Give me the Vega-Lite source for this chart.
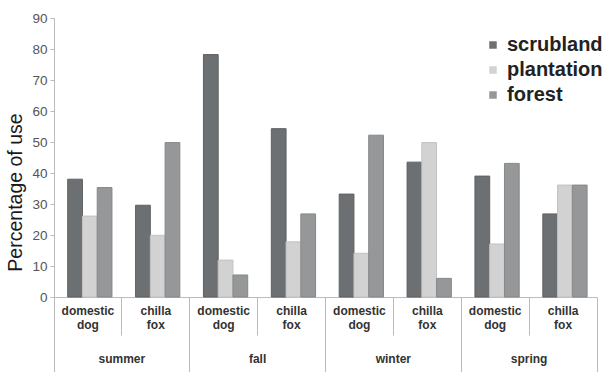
{
  "$schema": "https://vega.github.io/schema/vega-lite/v6.json",
  "width": 543,
  "height": 279,
  "autosize": "none",
  "padding": {"left": 54, "top": 18, "right": 12, "bottom": 75},
  "background": "white",
  "config": {"view": {"stroke": null}, "font": "Liberation Sans"},
  "data": {
    "values": [
      {"group": "summer/domestic dog", "habitat": "scrubland", "value": 38.0},
      {"group": "summer/domestic dog", "habitat": "plantation", "value": 26.1},
      {"group": "summer/domestic dog", "habitat": "forest", "value": 35.3},
      {"group": "summer/chilla fox", "habitat": "scrubland", "value": 29.6},
      {"group": "summer/chilla fox", "habitat": "plantation", "value": 19.9},
      {"group": "summer/chilla fox", "habitat": "forest", "value": 49.8},
      {"group": "fall/domestic dog", "habitat": "scrubland", "value": 78.2},
      {"group": "fall/domestic dog", "habitat": "plantation", "value": 11.9},
      {"group": "fall/domestic dog", "habitat": "forest", "value": 7.1},
      {"group": "fall/chilla fox", "habitat": "scrubland", "value": 54.3},
      {"group": "fall/chilla fox", "habitat": "plantation", "value": 17.8},
      {"group": "fall/chilla fox", "habitat": "forest", "value": 26.8},
      {"group": "winter/domestic dog", "habitat": "scrubland", "value": 33.2},
      {"group": "winter/domestic dog", "habitat": "plantation", "value": 14.1},
      {"group": "winter/domestic dog", "habitat": "forest", "value": 52.2},
      {"group": "winter/chilla fox", "habitat": "scrubland", "value": 43.5},
      {"group": "winter/chilla fox", "habitat": "plantation", "value": 49.8},
      {"group": "winter/chilla fox", "habitat": "forest", "value": 6.0},
      {"group": "spring/domestic dog", "habitat": "scrubland", "value": 39.0},
      {"group": "spring/domestic dog", "habitat": "plantation", "value": 17.1},
      {"group": "spring/domestic dog", "habitat": "forest", "value": 43.1},
      {"group": "spring/chilla fox", "habitat": "scrubland", "value": 26.8},
      {"group": "spring/chilla fox", "habitat": "plantation", "value": 36.1},
      {"group": "spring/chilla fox", "habitat": "forest", "value": 36.1}
    ]
  },
  "layer": [
    {
      "mark": {"type": "bar", "strokeWidth": 1},
      "encoding": {
        "x": {
          "field": "group",
          "type": "nominal",
          "sort": null,
          "scale": {"paddingInner": 0, "paddingOuter": 0},
          "axis": {
            "orient": "bottom",
            "title": null,
            "labelExpr": "split(split(datum.value, '/')[1], ' ')",
            "labelAngle": 0,
            "labelOverlap": false,
            "ticks": false,
            "labelPadding": 8,
            "labelFontSize": 12,
            "labelFontWeight": "bold",
            "labelColor": "#333333",
            "labelBaseline": "top",
            "labelLineHeight": 14.5,
            "domainColor": "#bbbbbb"
          }
        },
        "xOffset": {
          "field": "habitat",
          "sort": ["scrubland", "plantation", "forest"],
          "scale": {"paddingInner": 0, "paddingOuter": 0.8, "align": 0.58}
        },
        "y": {
          "field": "value",
          "type": "quantitative",
          "scale": {"domain": [0, 90], "nice": false},
          "axis": {
            "title": "Percentage of use",
            "values": [0, 10, 20, 30, 40, 50, 60, 70, 80, 90],
            "grid": false,
            "domainColor": "#bbbbbb",
            "tickColor": "#bbbbbb",
            "tickSize": 4,
            "labelPadding": 3,
            "labelFontSize": 13.5,
            "labelColor": "#555555",
            "titleFontSize": 19.5,
            "titleFontWeight": "normal",
            "titleColor": "#1a1a1a",
            "titlePadding": 6,
            "titleY": 174
          }
        },
        "color": {
          "field": "habitat",
          "type": "nominal",
          "sort": ["scrubland", "plantation", "forest"],
          "scale": {"range": ["#6d7072", "#d2d2d2", "#959799"]},
          "legend": {
            "orient": "none",
            "legendX": 429,
            "legendY": 17,
            "title": null,
            "symbolType": "square",
            "symbolSize": 56,
            "symbolStrokeWidth": 0,
            "labelFontSize": 20,
            "labelFontWeight": "bold",
            "labelColor": "#222222",
            "labelOffset": 4,
            "rowPadding": 5
          }
        },
        "stroke": {
          "field": "habitat",
          "type": "nominal",
          "sort": ["scrubland", "plantation", "forest"],
          "scale": {"range": ["#5e6163", "#c2c2c2", "#85888a"]},
          "legend": null
        }
      }
    },
    {
      "mark": {"type": "bar", "opacity": 0},
      "encoding": {
        "x": {
          "field": "group",
          "type": "nominal",
          "sort": null,
          "axis": {
            "orient": "bottom",
            "title": null,
            "bandPosition": 0,
            "domain": false,
            "labelAngle": 0,
            "labelOverlap": false,
            "labelExpr": "indexof(datum.value, 'chilla') >= 0 ? split(datum.value, '/')[0] : ''",
            "labelOffset": -34,
            "tickColor": "#bbbbbb",
            "tickSize": {"condition": {"test": "indexof(datum.value, 'domestic') >= 0", "value": 80}, "value": 38},
            "labelPadding": 23,
            "labelFontSize": 12,
            "labelFontWeight": "bold",
            "labelColor": "#333333",
            "labelBaseline": "middle"
          }
        }
      }
    },
    {
      "mark": {"type": "bar", "opacity": 0},
      "encoding": {
        "x": {
          "field": "group",
          "type": "nominal",
          "sort": null,
          "axis": {
            "orient": "bottom",
            "title": null,
            "bandPosition": 1,
            "domain": false,
            "labels": false,
            "tickSize": 80,
            "tickColor": "#bbbbbb",
            "tickOpacity": {"condition": {"test": "datum.value === 'spring/chilla fox'", "value": 1}, "value": 0}
          }
        }
      }
    }
  ],
  "resolve": {"axis": {"x": "independent"}}
}
